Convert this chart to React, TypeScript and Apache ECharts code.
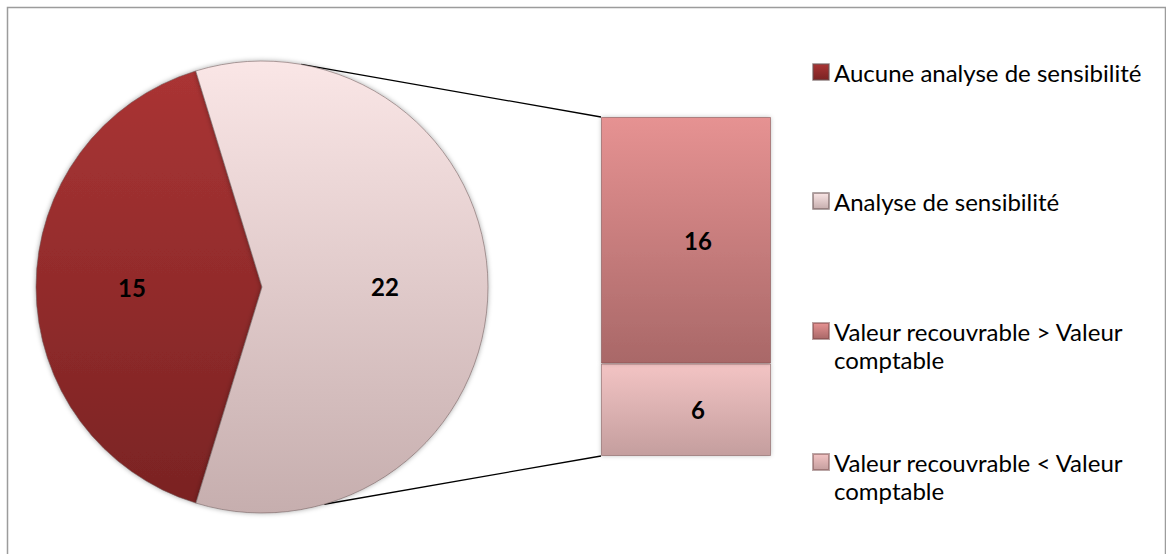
import React, { useEffect, useRef } from "react";
import * as echarts from "echarts";

// ---- data ----
const pieNames = ["Aucune analyse de sensibilité", "Analyse de sensibilité"];
const pieValues = [15, 22];
const barNames = ["Valeur recouvrable > Valeur comptable", "Valeur recouvrable < Valeur comptable"];
const barValues = [16, 6]; // breakdown of "Analyse de sensibilité"
const barCategory = ["Analyse de sensibilité"];

// ---- styling / layout ----
const FONT = "Lato, 'Open Sans', sans-serif";
const PIE_C = [262, 287];
const PIE_R = 226;
const BAR_LEFT = 601;
const BAR_TOP = 117;
const BAR_W = 170;
const BAR_H = 339;

const grad = (a: string, b: string) =>
  new echarts.graphic.LinearGradient(0, 0, 0, 1, [
    { offset: 0, color: a },
    { offset: 1, color: b },
  ]);

const pieColors = [grad("#aa3434", "#7a2323"), grad("#fae6e6", "#c6aeae")];
const barColors = [grad("#e69292", "#a96868"), grad("#f3c4c4", "#c49e9e")];

export default function App() {
  const ref = useRef<HTMLDivElement>(null);

  useEffect(() => {
    if (!ref.current) return;
    const chart = echarts.init(ref.current, undefined, { renderer: "svg" });

    const rad = (d: number) => (d * Math.PI) / 180;
    const pt = (deg: number) => [
      PIE_C[0] + PIE_R * Math.cos(rad(deg)),
      PIE_C[1] - PIE_R * Math.sin(rad(deg)),
    ];
    const topPt = pt(80);
    const botPt = pt(-74);

    const legendTops = [58, 187, 289, 420];
    const legendNames = [pieNames[0], pieNames[1], barNames[0], barNames[1]];
    const legendLabels: Record<string, string> = {
      [pieNames[0]]: pieNames[0],
      [pieNames[1]]: pieNames[1],
      [barNames[0]]: "\nValeur recouvrable > Valeur\ncomptable",
      [barNames[1]]: "\nValeur recouvrable < Valeur\ncomptable",
    };

    const labelStyle = {
      show: true,
      formatter: "{c}",
      fontFamily: FONT,
      fontWeight: "bold" as const,
      fontSize: 24,
      color: "#000",
    };

    chart.setOption({
      animation: false,
      backgroundColor: "#fff",
      legend: legendNames.map((n, i) => ({
        data: [n],
        left: 812,
        top: legendTops[i],
        padding: 0,
        orient: "vertical",
        itemWidth: 16,
        itemHeight: 16,
        icon: "rect",
        selectedMode: false,
        formatter: (name: string) => legendLabels[name],
        textStyle: { fontFamily: FONT, fontSize: 24, color: "#000", lineHeight: 28 },
      })),
      grid: { left: BAR_LEFT, top: BAR_TOP, width: BAR_W, height: BAR_H },
      xAxis: { type: "category", data: barCategory, show: false },
      yAxis: { type: "value", min: 0, max: barValues[0] + barValues[1], show: false },
      graphic: [
        {
          type: "rect",
          silent: true,
          z: -10,
          shape: { x: 7.5, y: 7.5, width: 1158, height: 570 },
          style: { fill: "none", stroke: "#9c9c9c", lineWidth: 1.5 },
        },
        {
          type: "line",
          z: 1,
          shape: { x1: topPt[0], y1: topPt[1], x2: BAR_LEFT, y2: BAR_TOP },
          style: { stroke: "#000", lineWidth: 1.3 },
        },
        {
          type: "line",
          z: 1,
          shape: { x1: botPt[0], y1: botPt[1], x2: BAR_LEFT, y2: BAR_TOP + BAR_H },
          style: { stroke: "#000", lineWidth: 1.3 },
        },
      ],
      series: [
        {
          type: "pie",
          center: PIE_C,
          radius: PIE_R,
          startAngle: 253,
          clockwise: true,
          z: 3,
          label: { ...labelStyle, position: "inside" },
          labelLine: { show: false },
          emphasis: { disabled: true },
          itemStyle: {
            borderColor: "rgba(110,90,90,0.55)",
            borderWidth: 1,
            shadowBlur: 5,
            shadowColor: "rgba(0,0,0,0.35)",
          },
          data: pieNames.map((n, i) => ({
            name: n,
            value: pieValues[i],
            itemStyle: { color: pieColors[i] },
            label: { offset: [i === 0 ? -14 : 7, 0] },
          })),
        },
        {
          type: "bar",
          name: barNames[1],
          stack: "other",
          barWidth: "100%",
          z: 3,
          data: [barValues[1]],
          itemStyle: {
            color: barColors[1],
            borderColor: "rgba(120,80,80,0.5)",
            borderWidth: 1,
            shadowBlur: 4,
            shadowColor: "rgba(0,0,0,0.25)",
          },
          label: { ...labelStyle, position: "inside", offset: [12, 0] },
        },
        {
          type: "bar",
          name: barNames[0],
          stack: "other",
          barWidth: "100%",
          z: 3,
          data: [barValues[0]],
          itemStyle: {
            color: barColors[0],
            borderColor: "rgba(120,70,70,0.5)",
            borderWidth: 1,
            shadowBlur: 4,
            shadowColor: "rgba(0,0,0,0.25)",
          },
          label: { ...labelStyle, position: "inside", offset: [12, 0] },
        },
      ],
    });

    return () => chart.dispose();
  }, []);

  return (
    <div
      ref={ref}
      style={{ position: "fixed", left: 0, top: 0, width: 1166, height: 554 }}
    />
  );
}
